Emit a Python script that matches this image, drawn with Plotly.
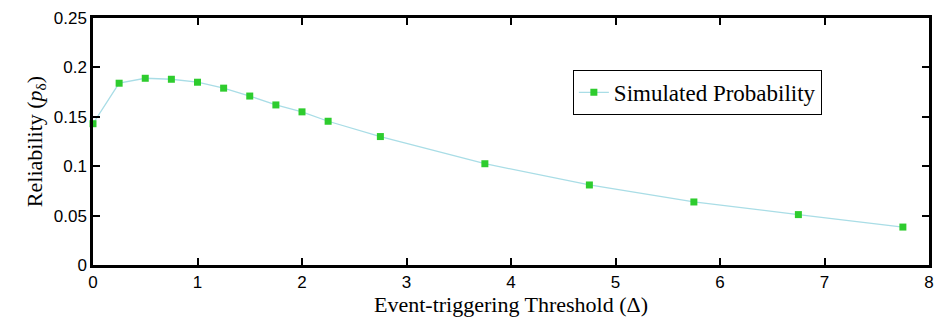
import plotly.graph_objects as go

thresholds = [0, 0.25, 0.5, 0.75, 1, 1.25, 1.5, 1.75, 2, 2.25, 2.75, 3.75, 4.75, 5.75, 6.75, 7.75]
reliability = [0.143, 0.184, 0.189, 0.188, 0.185, 0.179, 0.171, 0.162, 0.155, 0.1455, 0.130, 0.1025, 0.081, 0.0638, 0.051, 0.0384]
x_ticks = [0, 1, 2, 3, 4, 5, 6, 7, 8]
y_ticks = [0, 0.05, 0.1, 0.15, 0.2, 0.25]
y_tick_labels = ["0", "0.05", "0.1", "0.15", "0.2", "0.25"]

SERIF = "Liberation Serif, DejaVu Serif, serif"
SANS = "Liberation Sans, Arial, sans-serif"

fig = go.Figure()
fig.add_trace(go.Scatter(
    x=thresholds, y=reliability, mode="lines+markers",
    name="Simulated Probability",
    line=dict(color="#a9dde6", width=1.3),
    marker=dict(symbol="square", size=7, color="#2ecc2e", line=dict(width=0)),
    cliponaxis=False,
))

axis_common = dict(
    showgrid=False, zeroline=False, showline=True, linecolor="rgb(0,0,0)", linewidth=2.5,
    mirror="allticks", ticks="inside", ticklen=7, tickcolor="rgb(0,0,0)", tickwidth=1.5,
    tickfont=dict(family=SANS, size=17, color="black"),
)

fig.update_layout(
    width=943, height=326,
    margin=dict(l=93, r=9, t=9, b=61),
    paper_bgcolor="white", plot_bgcolor="white",
    xaxis=dict(range=[0, 8], tickvals=x_ticks,
               title=dict(text="Event-triggering Threshold (Δ)", standoff=6,
                          font=dict(family=SERIF, size=22, color="black")),
               **axis_common),
    yaxis=dict(range=[0, 0.25], tickvals=y_ticks, ticktext=y_tick_labels,
               title=dict(text="Reliability (<i>p</i><sub>δ</sub>)", standoff=6,
                          font=dict(family=SERIF, size=22, color="black")),
               **axis_common),
    legend=dict(x=0.574, y=0.79, xanchor="left", yanchor="top",
                bgcolor="white", bordercolor="black", borderwidth=1,
                font=dict(family=SERIF, size=23, color="black"),
                itemwidth=30, tracegroupgap=0),
    showlegend=True,
)

fig.write_html("out.html", config={"displayModeBar": False},
               post_script="document.body.style.margin='0';")
